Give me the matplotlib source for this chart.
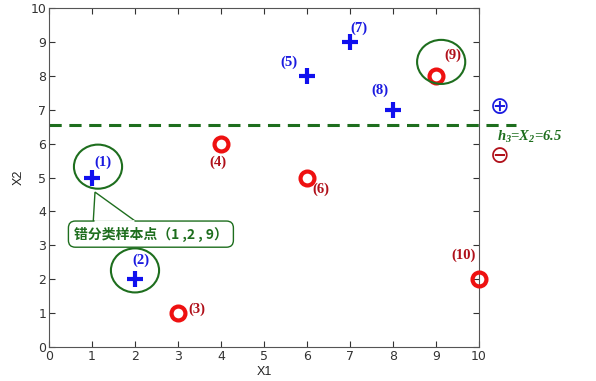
import matplotlib
matplotlib.use("Agg")
from matplotlib import pyplot as plt
from matplotlib.patches import Ellipse, Polygon

plt.rcParams['mathtext.fontset'] = 'custom'
plt.rcParams['mathtext.it'] = 'Liberation Serif:italic:bold'
plt.rcParams['mathtext.rm'] = 'Liberation Serif:italic:bold'

# data points
plus_x = [1, 2, 6, 7, 8]
plus_y = [5, 2, 8, 9, 7]
plus_lab = ["(1)", "(2)", "(5)", "(7)", "(8)"]
circ_x = [3, 4, 6, 9, 10]
circ_y = [1, 6, 5, 8, 2]
circ_lab = ["(3)", "(4)", "(6)", "(9)", "(10)"]
# label positions
plus_lab_pos = [(1.26, 5.46), (2.14, 2.57), (5.58, 8.41), (7.21, 9.41), (7.70, 7.58)]
circ_lab_pos = [(3.45, 1.12), (3.93, 5.46), (6.33, 4.66), (9.40, 8.61), (9.63, 2.71)]
wrong_centers = [(1.14, 5.32), (2.0, 2.26), (9.12, 8.41)]
h3 = 6.55

green = "#1e6e1e"
dkred = "#b0101a"

fig = plt.figure(figsize=(5.96, 3.81), dpi=100)
ax = fig.add_axes([0.0822, 0.0892, 0.7215, 0.8898])

ax.plot(plus_x, plus_y, linestyle="none", marker="+", markersize=11,
        markeredgewidth=3, color="#1010ee", clip_on=False, zorder=5)
ax.plot(circ_x, circ_y, linestyle="none", marker="o", markersize=10,
        markeredgewidth=3, markerfacecolor="none", markeredgecolor="#ee1111",
        clip_on=False, zorder=5)

for (tx, ty), s in zip(plus_lab_pos, plus_lab):
    ax.text(tx, ty, s, color="#1a1ae0", fontsize=10.5, fontweight="bold",
            family="Liberation Serif", ha="center", va="center")
for (tx, ty), s in zip(circ_lab_pos, circ_lab):
    ax.text(tx, ty, s, color=dkred, fontsize=10.5, fontweight="bold",
            family="Liberation Serif", ha="center", va="center")

for cx, cy in wrong_centers:
    ax.add_patch(Ellipse((cx, cy), 1.12, 1.3, fill=False, edgecolor=green,
                         linewidth=1.5, zorder=6))

ax.plot([0, 10.85], [h3, h3], linestyle=(0, (4, 2.5)), color=green,
        linewidth=2.2, clip_on=False)

# callout
ax.add_patch(Polygon([(1.03, 3.72), (1.07, 4.57), (2.0, 3.72)], closed=True,
                     facecolor="white", edgecolor=green, linewidth=1,
                     clip_on=False, zorder=7))
ax.text(2.37, 3.33, "错分类样本点（1 ,2 , 9）", color=green, fontsize=10,
        fontweight="bold", family=["Noto Sans CJK SC", "DejaVu Sans"],
        ha="center", va="center", zorder=8,
        bbox=dict(boxstyle="round,pad=0.4,rounding_size=0.5", facecolor="white",
                  edgecolor=green, linewidth=1))
ax.plot([1.05, 1.98], [3.72, 3.72], color="white", linewidth=2, zorder=9,
        solid_capstyle="butt")

ax.text(10.48, 7.08, "⊕", color="#1a1ae0", fontsize=17, ha="center",
        va="center", clip_on=False)
ax.text(10.48, 5.62, "⊖", color=dkred, fontsize=17, ha="center",
        va="center", clip_on=False)
ax.text(10.42, 6.2, r"$h_3$=$X_2$=6.5", color=green, fontsize=10.5,
        family="Liberation Serif", fontstyle="italic", fontweight="bold",
        ha="left", va="center", clip_on=False)

ax.set_xlim(0, 10)
ax.set_ylim(0, 10)
ax.set_xticks(range(11))
ax.set_yticks(range(11))
ax.tick_params(direction="in", top=True, right=True, length=4, width=0.8,
               labelsize=9, colors="#333333", pad=2)
for sp in ax.spines.values():
    sp.set_color("#555555")
ax.set_xlabel("X1", fontsize=9, color="#222222", family="Liberation Sans", labelpad=2)
ax.set_ylabel("X2", fontsize=9, color="#222222", family="Liberation Sans", labelpad=4)

fig.savefig("out.png", dpi=100)
